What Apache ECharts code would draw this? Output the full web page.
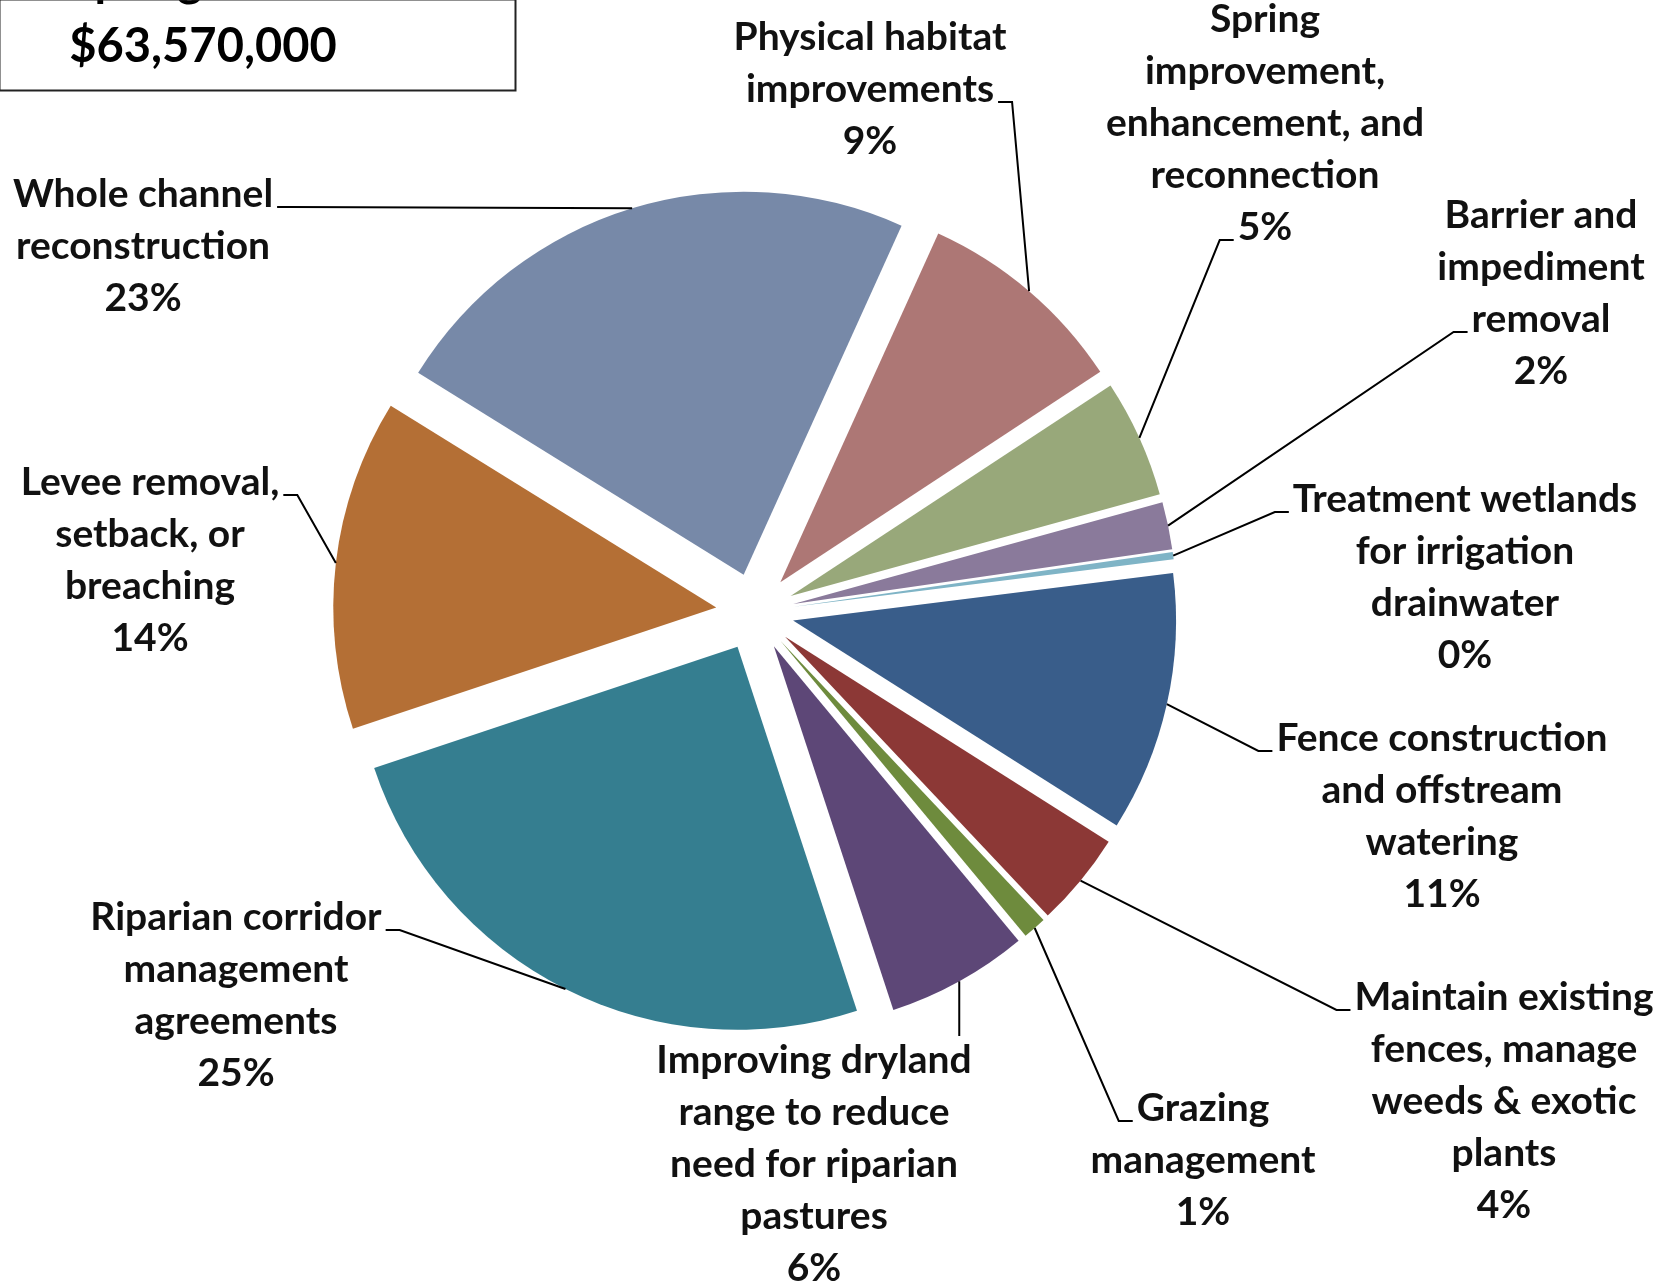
<!DOCTYPE html>
<html>
<head>
<meta charset="utf-8">
<script src="https://cdn.jsdelivr.net/npm/echarts@6/dist/echarts.min.js"></script>
<style>
html,body{margin:0;padding:0;background:#ffffff;}
#chart{width:1667px;height:1285px;}
</style>
</head>
<body>
<div id="chart"></div>
<script>
// ---------------- DATA ----------------
const categories = [
  'Whole channel\nreconstruction',
  'Physical habitat\nimprovements',
  'Spring\nimprovement,\nenhancement, and\nreconnection',
  'Barrier and\nimpediment\nremoval',
  'Treatment wetlands\nfor irrigation\ndrainwater',
  'Fence construction\nand offstream\nwatering',
  'Maintain existing\nfences, manage\nweeds & exotic\nplants',
  'Grazing\nmanagement',
  'Improving dryland\nrange to reduce\nneed for riparian\npastures',
  'Riparian corridor\nmanagement\nagreements',
  'Levee removal,\nsetback, or\nbreaching'
];
const percentValues = [23, 9, 5, 2, 0.3, 11, 4, 1, 6, 25, 14];
const sliceColors = ['#7789A8', '#AD7775', '#98A87A', '#8A7A9B', '#7FB4C6', '#395D8A',
                     '#8C3836', '#6E8B3D', '#5D4777', '#357E90', '#B46F35'];
const boxCaption = 'Spring Creek';
const totalLabel = '$63,570,000';

// ---------------- LAYOUT (not data) ----------------
const CX = 755, CY = 612, R = 383, OFFSET = 39, START = 148.2;
const FONT = 'Lato', FSIZE = 39, FWEIGHT = 'bold', LH = 52;
// label block: center x, top y, which side the leader attaches, which line
const labelPlacement = [
  {cx: 143, top: 168, side: 'right', line: 0},
  {cx: 870, top: 11,  side: 'right', line: 1},
  {cx: 1265, top: -7, side: 'left',  line: 4},
  {cx: 1541, top: 189, side: 'left', line: 2},
  {cx: 1465, top: 473, side: 'left', line: 0},
  {cx: 1442, top: 712, side: 'left', line: 0},
  {cx: 1504, top: 971, side: 'left', line: 0},
  {cx: 1203, top: 1082, side: 'left', line: 0},
  {cx: 814, top: 1034, side: 'top', line: 0},
  {cx: 236, top: 891, side: 'right', line: 0},
  {cx: 150, top: 456, side: 'right', line: 0}
];

const measureCtx = document.createElement('canvas').getContext('2d');
measureCtx.font = FWEIGHT + ' ' + FSIZE + 'px ' + FONT;
function textWidth(t) { return measureCtx.measureText(t).width; }

// mid angles (radians) computed from the data
const total = percentValues.reduce((a, b) => a + b, 0);
const midAngles = [];
(function () {
  let acc = 0;
  percentValues.forEach(v => {
    const a0 = acc, a1 = acc + v / total * 360;
    acc = a1;
    midAngles.push((START - (a0 + a1) / 2) * Math.PI / 180);
  });
})();

const pieData = categories.map((n, i) => ({name: n, value: percentValues[i]}));

const chart = echarts.init(document.getElementById('chart'), null, {renderer: 'canvas'});
chart.setOption({
  backgroundColor: '#ffffff',
  animation: false,
  title: [{
    text: boxCaption, left: 198, top: -48, textAlign: 'center',
    textStyle: {fontFamily: FONT, fontWeight: 'bold', fontSize: 47, lineHeight: 47, color: '#000'}
  }, {
    text: totalLabel, left: 198, top: 18, textAlign: 'center',
    textStyle: {fontFamily: FONT, fontWeight: 'bold', fontSize: 47, lineHeight: 47, color: '#000'}
  }],
  graphic: [{
    type: 'rect', left: -3, top: -3,
    shape: {width: 516, height: 91},
    style: {fill: 'none', stroke: '#222', lineWidth: 2}, z: 10
  }],
  series: [{
    // exploded slices
    type: 'pie',
    center: [CX, CY],
    radius: R,
    startAngle: START,
    clockwise: true,
    selectedMode: 'multiple',
    selectedOffset: OFFSET,
    emphasis: {disabled: true},
    itemStyle: {borderWidth: 0},
    label: {show: false},
    labelLine: {show: false},
    data: pieData.map((d, i) => ({name: d.name, value: d.value, selected: true,
      itemStyle: {color: sliceColors[i]}}))
  }, {
    // labels and leader lines (transparent slices, same data)
    type: 'pie',
    silent: true,
    center: [CX, CY],
    radius: R,
    startAngle: START,
    clockwise: true,
    avoidLabelOverlap: false,
    emphasis: {disabled: true},
    itemStyle: {color: 'rgba(0,0,0,0)', borderWidth: 0},
    data: pieData,
    z: 3,
    label: {
      show: true, position: 'outside',
      formatter: p => p.name + '\n' + Math.round(p.percent) + '%',
      fontFamily: FONT, fontSize: FSIZE, fontWeight: FWEIGHT, lineHeight: LH,
      color: '#111', align: 'center'
    },
    labelLine: {show: true, lineStyle: {color: '#000', width: 2}},
    labelLayout: function (params) {
      const i = params.dataIndex;
      const pl = labelPlacement[i];
      const lines = params.text.split('\n');
      const lw = textWidth(lines[pl.line]);
      const a = midAngles[i];
      const anchor = [CX + (R + OFFSET) * Math.cos(a), CY - (R + OFFSET) * Math.sin(a)];
      let pts;
      if (pl.side === 'top') {
        const end = [anchor[0], pl.top + 2];
        pts = [anchor, [anchor[0], (anchor[1] + end[1]) / 2], end];
      } else {
        const y = pl.top + (pl.line + 0.5) * LH + 13;
        const ex = pl.side === 'right' ? pl.cx + lw / 2 + 4 : pl.cx - lw / 2 - 4;
        const elbow = [pl.side === 'right' ? ex + 14 : ex - 14, y];
        pts = [anchor, elbow, [ex, y]];
      }
      return {x: pl.cx, y: pl.top, align: 'center', verticalAlign: 'top', labelLinePoints: pts};
    }
  }]
});
</script>
</body>
</html>
